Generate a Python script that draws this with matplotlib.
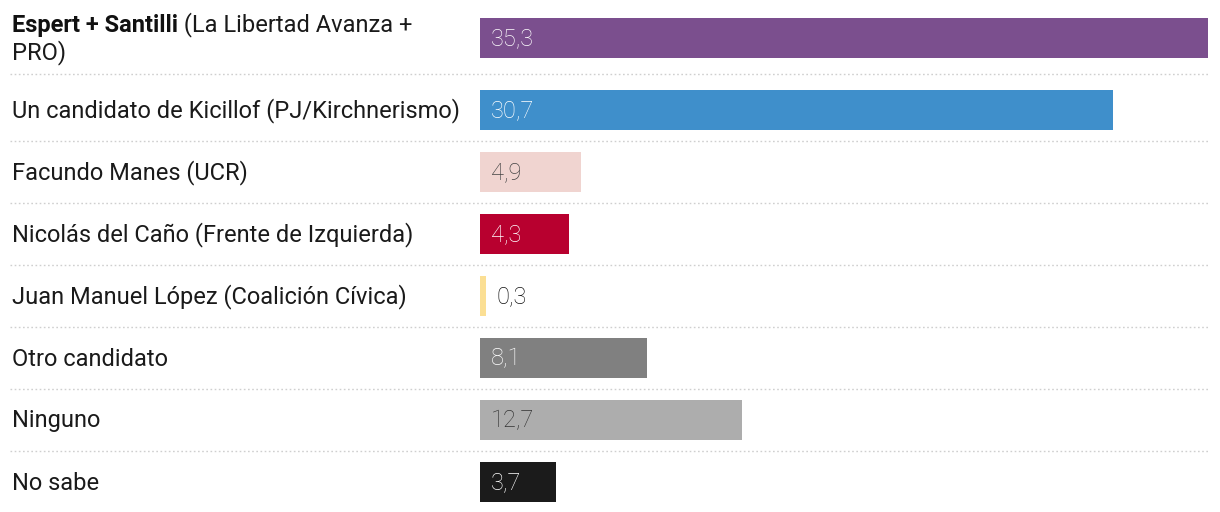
import matplotlib
matplotlib.use('Agg')
import matplotlib.pyplot as plt

labels = ["Un candidato de Kicillof (PJ/Kirchnerismo)", "Facundo Manes (UCR)",
          "Nicolás del Caño (Frente de Izquierda)", "Juan Manuel López (Coalición Cívica)",
          "Otro candidato", "Ninguno", "No sabe"]
first_bold = "Espert + Santilli"
first_rest = " (La Libertad Avanza +"
first_line2 = "PRO)"
values = [35.3, 30.7, 4.9, 4.3, 0.3, 8.1, 12.7, 3.7]
value_text = ["35,3", "30,7", "4,9", "4,3", "0,3", "8,1", "12,7", "3,7"]
colors = ["#7b4f8e", "#3f8fcb", "#f0d4d0", "#b8002f", "#fbdf94", "#808080", "#adadad", "#1b1b1b"]
text_colors = ["white", "white", "#444444", "white", "#111111", "white", "#333333", "white"]

W, H = 1220, 512
fig = plt.figure(figsize=(W / 100, H / 100), dpi=100)
# full-figure axes in pixel coords for labels/lines
bg = fig.add_axes([0, 0, 1, 1])
bg.set_xlim(0, W)
bg.set_ylim(H, 0)
bg.axis('off')

# bar axes: x from 480px to 1208px
ax = fig.add_axes([480 / W, 0, (1208 - 480) / W, 1])
ax.set_xlim(0, values[0])
ax.set_ylim(H, 0)
ax.axis('off')

centers = [38] + [110 + 62 * i for i in range(7)]
ax.barh(centers, values, height=40, color=colors, left=0)

fs = 17
font = 'Roboto'
for i, (v, t) in enumerate(zip(values, value_text)):
    x = 0.53 if v > 1 else v + 0.5
    ax.text(x, centers[i] + 1, t, color=text_colors[i], fontsize=17,
            family=font, fontweight='light', va='center', ha='left')

# separators
for i in range(7):
    y = (centers[i] + 20 + centers[i + 1] - 20) / 2
    bg.plot([10, 1210], [y, y], color='#cfcfcf', lw=1, ls=(0, (1.2, 1.8)))

# first label: bold + normal
t1 = bg.text(12, 32, first_bold, fontsize=fs, family=font, fontweight='bold', va='baseline', color='#111111')
bg.annotate(first_rest, xy=(1, 0), xycoords=t1, fontsize=fs, family=font,
            va='bottom', ha='left', color='#1a1a1a')
bg.text(12, 59, first_line2, fontsize=fs, family=font, va='baseline', color='#1a1a1a')

for i, lab in enumerate(labels):
    bg.text(12, centers[i + 1] + 1, lab, fontsize=fs, family=font,
            va='center', ha='left', color='#1a1a1a')

fig.savefig('out.png', dpi=100)
